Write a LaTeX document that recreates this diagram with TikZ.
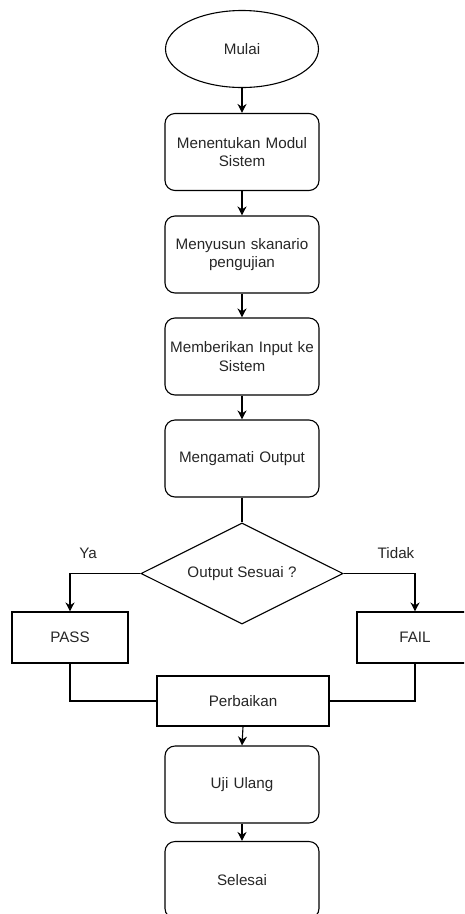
\documentclass[tikz,border=0pt]{standalone}
\usepackage{fontspec}
\setmainfont{Liberation Sans}
\usetikzlibrary{shapes.geometric,arrows.meta}
\begin{document}
\begin{tikzpicture}[x=1pt,y=-1pt,
  every node/.style={font=\fontsize{15.2}{18.5}\selectfont, text=black!85, align=center, inner sep=0pt},
  rbox/.style={draw, line width=1.1pt, rounded corners=10pt, minimum width=154pt, minimum height=77pt, text width=150pt},
  sbox/.style={draw, line width=1.1pt, minimum height=51pt},
  conn/.style={line width=1.1pt},
  arr/.style={conn, -{Stealth[length=9pt,width=9pt]}}
]
\useasboundingbox (0,0) rectangle (464,914);
\clip (0,0) rectangle (464,914);
\node[draw, line width=1.1pt, ellipse, minimum width=153pt, minimum height=77pt] (mulai) at (242,49) {Mulai};
\node[rbox] (b1) at (242,152) {Menentukan Modul\\Sistem};
\node[rbox] (b2) at (242,254.5) {Menyusun skanario\\pengujian};
\node[rbox] (b3) at (242,356.5) {Memberikan Input ke\\Sistem};
\node[rbox] (b4) at (242,458.5) {Mengamati Output};
\node[draw, line width=1.1pt, diamond, aspect=2, minimum width=202pt, minimum height=101pt] (dec) at (242,573.5) {Output Sesuai ?};
\node[sbox, minimum width=116pt] (pass) at (70,637.5) {PASS};
\node[sbox, minimum width=116pt] (fail) at (415,637.5) {FAIL};
\node[sbox, minimum width=172pt, minimum height=50pt] (perb) at (243,701) {Perbaikan};
\node[rbox] (uji) at (242,784.5) {Uji Ulang};
\node[rbox] (sel) at (242,880) {Selesai};
\node (ya) at (88,553) {Ya};
\node (tidak) at (396,553) {Tidak};
\draw[arr] (mulai.south) -- (b1.north);
\draw[arr] (b1.south) -- (b2.north);
\draw[arr] (b2.south) -- (b3.north);
\draw[arr] (b3.south) -- (b4.north);
\draw[conn] (b4.south) -- (dec.north);
\draw[arr] (dec.west) -| (pass.north);
\draw[arr] (dec.east) -| (fail.north);
\draw[conn] (pass.south) |- (perb.west);
\draw[conn] (fail.south) |- (perb.east);
\draw[arr] (perb.south) -- (uji.north);
\draw[arr] (uji.south) -- (sel.north);
\end{tikzpicture}
\end{document}
